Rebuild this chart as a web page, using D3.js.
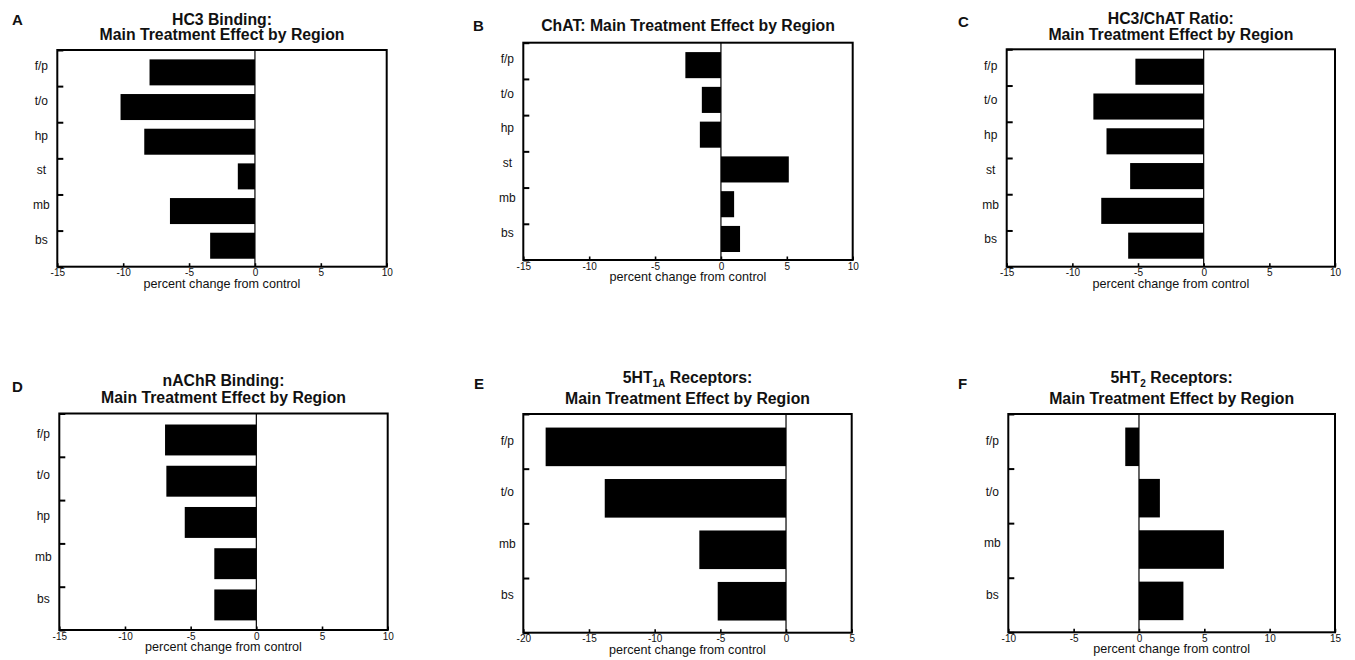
<!DOCTYPE html>
<html>
<head>
<meta charset="utf-8">
<script src="https://cdn.jsdelivr.net/npm/d3@7"></script>
<style>
  body { margin: 0; background: #fff; }
  svg { display: block; font-family: "Liberation Sans", Arial, Helvetica, sans-serif; }
</style>
</head>
<body>
<div id="chart"></div>
<script>
// region categories
const regions6 = ['f/p', 't/o', 'hp', 'st', 'mb', 'bs'];
const regions5 = ['f/p', 't/o', 'hp', 'mb', 'bs'];
const regions4 = ['f/p', 't/o', 'mb', 'bs'];

// percent change from control, per panel
const hc3Values = [-8.0, -10.2, -8.4, -1.3, -6.45, -3.4];
const chatValues = [-2.7, -1.45, -1.6, 5.15, 1.0, 1.45];
const ratioValues = [-5.2, -8.4, -7.4, -5.6, -7.8, -5.75];
const nachrValues = [-6.95, -6.85, -5.45, -3.2, -3.2];
const ht1aValues = [-18.3, -13.8, -6.6, -5.2];
const ht2Values = [-1.05, 1.6, 6.5, 3.4];

// x ticks
const ticksA = [-15, -10, -5, 0, 5, 10];
const ticksE = [-20, -15, -10, -5, 0, 5];
const ticksF = [-10, -5, 0, 5, 10, 15];

const xLabel = 'percent change from control';

const panels = [
  { letter: 'A', title: [['HC3 Binding:'], ['Main Treatment Effect by Region']],
    cats: regions6, vals: hc3Values, ticks: ticksA,
    frame: [57.3, 386.7, 50, 266.7], titleY: [24.5, 40], letterPos: [12, 25] },
  { letter: 'B', title: [['ChAT: Main Treatment Effect by Region']],
    cats: regions6, vals: chatValues, ticks: ticksA,
    frame: [523.3, 852.7, 42.7, 260], titleY: [31], letterPos: [473, 30.7] },
  { letter: 'C', title: [['HC3/ChAT Ratio:'], ['Main Treatment Effect by Region']],
    cats: regions6, vals: ratioValues, ticks: ticksA,
    frame: [1006.7, 1335, 49.3, 266.7], titleY: [24, 39.5], letterPos: [958, 26.7] },
  { letter: 'D', title: [['nAChR Binding:'], ['Main Treatment Effect by Region']],
    cats: regions5, vals: nachrValues, ticks: ticksA,
    frame: [59.3, 387.7, 413.5, 630], titleY: [386, 403], letterPos: [12, 391.7] },
  { letter: 'E', title: [['5HT', '1A', ' Receptors:'], ['Main Treatment Effect by Region']],
    cats: regions4, vals: ht1aValues, ticks: ticksE,
    frame: [523.3, 851.7, 414, 632.7], titleY: [383, 404], letterPos: [474, 389] },
  { letter: 'F', title: [['5HT', '2', ' Receptors:'], ['Main Treatment Effect by Region']],
    cats: regions4, vals: ht2Values, ticks: ticksF,
    frame: [1008.3, 1335, 414, 632.3], titleY: [383, 404], letterPos: [958, 389] }
];

const svg = d3.select('#chart').append('svg')
  .attr('width', 1355)
  .attr('height', 660);

panels.forEach(p => {
  const [x0, x1, y0, y1] = p.frame;
  const g = svg.append('g');

  const x = d3.scaleLinear()
    .domain(d3.extent(p.ticks))
    .range([x0, x1]);

  const y = d3.scaleBand()
    .domain(p.cats)
    .range([y0, y1])
    .padding(0.25);

  // band boundaries for the inward ticks on the left
  const yEdge = d3.scaleLinear()
    .domain([0, p.cats.length])
    .range([y0, y1]);

  const data = p.cats.map((c, i) => ({ cat: c, value: p.vals[i] }));

  g.selectAll('rect.bar')
    .data(data)
    .enter()
    .append('rect')
      .attr('class', 'bar')
      .attr('x', d => x(Math.min(0, d.value)))
      .attr('y', d => y(d.cat) + 0.7)
      .attr('width', d => Math.abs(x(d.value) - x(0)))
      .attr('height', y.bandwidth())
      .attr('fill', '#000');

  // zero line
  g.append('line')
    .attr('x1', x(0)).attr('x2', x(0))
    .attr('y1', y0).attr('y2', y1)
    .attr('stroke', '#000')
    .attr('stroke-width', 1.2);

  // x axis
  const xAxis = g.append('g')
    .attr('transform', `translate(0,${y1})`)
    .call(d3.axisBottom(x).tickValues(p.ticks).tickFormat(d => String(d))
      .tickSize(-3.5).tickPadding(2.5).tickSizeOuter(0));
  xAxis.select('.domain').remove();
  xAxis.selectAll('line').attr('stroke-width', 1.6);
  xAxis.selectAll('text')
    .attr('font-size', 10)
    .attr('fill', '#111')
    .style('font-family', '"Liberation Sans", Arial, sans-serif');

  // inward boundary ticks on the left
  const edgeAxis = g.append('g')
    .attr('transform', `translate(${x0},0)`)
    .call(d3.axisRight(yEdge).tickValues(d3.range(p.cats.length + 1)).tickSize(6).tickFormat(''));
  edgeAxis.select('.domain').remove();
  edgeAxis.selectAll('line').attr('stroke-width', 2);

  // category labels
  const yAxis = g.append('g')
    .attr('transform', `translate(${x0},0)`)
    .call(d3.axisLeft(y).tickSize(0).tickPadding(0));
  yAxis.select('.domain').remove();
  yAxis.selectAll('text')
    .attr('x', -16)
    .attr('dy', 0)
    .attr('y', -1.5)
    .attr('text-anchor', 'middle')
    .attr('font-size', 12)
    .attr('fill', '#111')
    .style('font-family', '"Liberation Sans", Arial, sans-serif');

  // frame
  g.append('rect')
    .attr('x', x0).attr('y', y0)
    .attr('width', x1 - x0).attr('height', y1 - y0)
    .attr('fill', 'none')
    .attr('stroke', '#000')
    .attr('stroke-width', 2);

  // axis title
  g.append('text')
    .attr('x', (x0 + x1) / 2)
    .attr('y', y1 + 21)
    .attr('text-anchor', 'middle')
    .attr('font-size', 12.6)
    .attr('fill', '#111')
    .text(xLabel);

  // chart title
  p.title.forEach((parts, i) => {
    const t = g.append('text')
      .attr('x', (x0 + x1) / 2)
      .attr('y', p.titleY[i])
      .attr('text-anchor', 'middle')
      .attr('font-size', 15.8)
      .attr('font-weight', 'bold')
      .attr('fill', '#111');
    if (parts.length === 1) {
      t.text(parts[0]);
    } else {
      t.append('tspan').text(parts[0]);
      t.append('tspan').attr('font-size', 10).attr('dy', 4).text(parts[1]);
      t.append('tspan').attr('dy', -4).text(parts[2]);
    }
  });

  // panel letter
  g.append('text')
    .attr('x', p.letterPos[0])
    .attr('y', p.letterPos[1])
    .attr('font-size', 15)
    .attr('font-weight', 'bold')
    .attr('fill', '#111')
    .text(p.letter);
});
</script>
</body>
</html>
